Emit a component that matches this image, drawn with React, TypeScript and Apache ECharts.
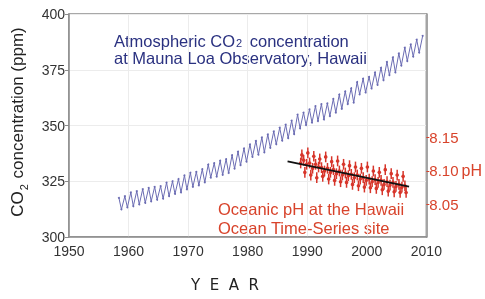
import React, { useEffect, useRef } from "react";
import * as echarts from "echarts";

// CO2 (ppm) at Mauna Loa: yearly seasonal peak (May) and trough (Oct)
const co2Years = [
  1958, 1959, 1960, 1961, 1962, 1963, 1964, 1965, 1966, 1967,
  1968, 1969, 1970, 1971, 1972, 1973, 1974, 1975, 1976, 1977,
  1978, 1979, 1980, 1981, 1982, 1983, 1984, 1985, 1986, 1987,
  1988, 1989, 1990, 1991, 1992, 1993, 1994, 1995, 1996, 1997,
  1998, 1999, 2000, 2001, 2002, 2003, 2004, 2005, 2006, 2007,
  2008, 2009,
];
const co2Peak = [
  317.5, 318.3, 320.0, 320.6, 321.5, 322.0, 322.5, 322.8, 324.4, 325.0,
  326.0, 327.6, 328.8, 329.2, 330.4, 332.5, 333.1, 334.2, 334.9, 336.7,
  338.3, 339.7, 341.5, 343.1, 344.7, 346.0, 347.4, 349.0, 350.4, 352.2,
  354.9, 355.8, 357.2, 358.7, 359.6, 359.9, 361.9, 363.9, 365.3, 366.7,
  369.5, 371.0, 371.8, 373.8, 375.9, 378.5, 380.6, 382.3, 384.9, 386.4,
  388.5, 390.2,
];
const co2Trough = [
  312.4, 313.3, 313.8, 314.6, 315.3, 316.0, 316.7, 317.2, 318.3, 319.3,
  320.0, 321.4, 322.5, 323.2, 324.5, 326.6, 327.1, 327.9, 328.7, 330.7,
  332.2, 333.8, 335.9, 336.9, 338.0, 340.0, 341.6, 343.2, 344.3, 346.1,
  348.7, 350.2, 351.3, 352.0, 352.7, 354.2, 355.8, 357.5, 359.6, 360.3,
  364.0, 364.8, 366.6, 368.2, 370.3, 372.6, 373.8, 376.9, 378.9, 380.9,
  382.7,
];

// Oceanic pH at HOT
const phYears = [
  1988.9, 1989.1, 1989.4, 1989.6, 1989.9, 1990.1, 1990.4, 1990.6, 1990.9,
  1991.1, 1991.4, 1991.6, 1991.9, 1992.1, 1992.4, 1992.6, 1992.9,
  1993.1, 1993.4, 1993.6, 1993.9, 1994.1, 1994.4, 1994.6, 1994.9,
  1995.1, 1995.4, 1995.6, 1995.9, 1996.1, 1996.4, 1996.6, 1996.9,
  1997.1, 1997.4, 1997.6, 1997.9, 1998.1, 1998.4, 1998.6, 1998.9,
  1999.1, 1999.4, 1999.6, 1999.9, 2000.1, 2000.4, 2000.6, 2000.9,
  2001.1, 2001.4, 2001.6, 2001.9, 2002.1, 2002.4, 2002.6, 2002.9,
  2003.1, 2003.4, 2003.6, 2003.9, 2004.1, 2004.4, 2004.6, 2004.9,
  2005.1, 2005.4, 2005.6, 2005.9, 2006.1, 2006.4, 2006.6,
];
const phValues = [
  8.112, 8.124, 8.116, 8.098, 8.110, 8.127, 8.112, 8.094, 8.104,
  8.122, 8.110, 8.090, 8.106, 8.118, 8.105, 8.092, 8.100,
  8.121, 8.104, 8.088, 8.098, 8.114, 8.102, 8.086, 8.096,
  8.115, 8.100, 8.084, 8.094, 8.110, 8.097, 8.083, 8.093,
  8.108, 8.095, 8.080, 8.090, 8.106, 8.094, 8.078, 8.088,
  8.104, 8.090, 8.076, 8.086, 8.106, 8.088, 8.075, 8.084,
  8.100, 8.087, 8.074, 8.083, 8.098, 8.086, 8.072, 8.080,
  8.102, 8.084, 8.070, 8.079, 8.096, 8.083, 8.069, 8.077,
  8.094, 8.080, 8.068, 8.076, 8.092, 8.078, 8.068,
];
const phErr = 0.008;
const phTrendYears = [1986.7, 2007.1];
const phTrendValues = [8.1145, 8.0768];

const yearTicks = [1950, 1960, 1970, 1980, 1990, 2000, 2010];
const co2Ticks = [300, 325, 350, 375, 400];
const phTicks = [8.05, 8.1, 8.15];

const NAVY = "#2a3180";
const RED = "#d8432b";
const FONT = "'Liberation Sans', Arial, Helvetica, sans-serif";

export default function App() {
  const ref = useRef<HTMLDivElement>(null);
  useEffect(() => {
    if (!ref.current) return;
    const chart = echarts.init(ref.current, undefined, { renderer: "svg" });

    const co2Data: number[][] = [];
    co2Years.forEach((y, i) => {
      co2Data.push([y + 0.38, co2Peak[i]]);
      if (i < co2Trough.length) co2Data.push([y + 0.8, co2Trough[i]]);
    });
    const phData = phYears.map((y, i) => [y, phValues[i], phErr]);
    const trendData = phTrendYears.map((y, i) => [y, phTrendValues[i]]);

    chart.setOption({
      animation: false,
      textStyle: { fontFamily: FONT },
      grid: {
        left: 69,
        top: 14,
        right: 58,
        bottom: 62,
        show: true,
        borderColor: "#8c8c8c",
        borderWidth: 1.5,
        backgroundColor: "transparent",
      },
      xAxis: {
        type: "value",
        min: yearTicks[0],
        max: yearTicks[yearTicks.length - 1],
        interval: 10,
        axisLine: { show: true, lineStyle: { color: "#8c8c8c", width: 1.5 } },
        axisTick: { show: false },
        splitLine: { show: true, lineStyle: { color: "#ececec", width: 1 } },
        axisLabel: {
          fontSize: 14,
          color: "#333",
          fontFamily: FONT,
          margin: 7,
          formatter: (v: number) => String(v),
        },
      },
      yAxis: [
        {
          type: "value",
          min: co2Ticks[0],
          max: co2Ticks[co2Ticks.length - 1],
          interval: 25,
          axisLine: { show: true, lineStyle: { color: "#8c8c8c", width: 1.5 } },
          axisTick: { show: true, length: 4, lineStyle: { color: "#8c8c8c" } },
          splitLine: { show: true, lineStyle: { color: "#ececec", width: 1 } },
          axisLabel: { fontSize: 14, color: "#333", fontFamily: FONT, margin: 4 },
        },
        {
          type: "value",
          position: "right",
          min: 8.0015,
          max: 8.3343,
          axisLine: { show: true, lineStyle: { color: "#8c8c8c", width: 1.5 } },
          axisTick: {
            show: true,
            length: 3,
            customValues: phTicks,
            lineStyle: { color: RED },
          },
          splitLine: { show: false },
          axisLabel: {
            customValues: phTicks,
            margin: 3,
            formatter: (v: number) =>
              Math.abs(v - 8.1) < 1e-6 ? "{v|8.10}{u|pH}" : "{v|" + v.toFixed(2) + "}",
            rich: {
              v: { fontSize: 15, color: RED, fontFamily: FONT },
              u: { fontSize: 16, color: RED, fontFamily: FONT, padding: [0, 0, 0, 3] },
            },
          },
        },
      ],
      graphic: [
        {
          type: "text",
          x: 19,
          y: 122,
          rotation: Math.PI / 2,
          style: {
            text: "{a|CO}{s|2}{a| concentration (ppm)}",
            align: "center",
            verticalAlign: "middle",
            rich: {
              a: { fontSize: 17, fill: "#222", fontFamily: FONT, lineHeight: 20, verticalAlign: "top" },
              s: { fontSize: 11, fill: "#222", fontFamily: FONT, lineHeight: 10, verticalAlign: "bottom", padding: [0, 1, 0, 1] },
            },
          },
        },
        {
          type: "text",
          x: 114,
          y: 40,
          style: {
            text: "{a|Atmospheric CO}{s|2}{a| concentration}",
            align: "left",
            verticalAlign: "middle",
            rich: {
              a: { fontSize: 16.5, fill: NAVY, fontFamily: FONT, lineHeight: 16, verticalAlign: "top" },
              s: { fontSize: 11, fill: NAVY, fontFamily: FONT, lineHeight: 6, verticalAlign: "bottom", padding: [0, 3, 0, 1] },
            },
          },
        },
        {
          type: "text",
          x: 114,
          y: 58,
          style: {
            text: "at Mauna Loa Observatory, Hawaii",
            fontSize: 16.5,
            lineHeight: 15,
            fill: NAVY,
            fontFamily: FONT,
            align: "left",
            verticalAlign: "middle",
          },
        },
        {
          type: "text",
          x: 218,
          y: 209,
          style: {
            text: "Oceanic pH at the Hawaii",
            fontSize: 16.5,
            lineHeight: 17,
            fill: RED,
            fontFamily: FONT,
            align: "left",
            verticalAlign: "middle",
          },
        },
        {
          type: "text",
          x: 218,
          y: 227.5,
          style: {
            text: "Ocean Time-Series site",
            fontSize: 16.5,
            lineHeight: 17,
            fill: RED,
            fontFamily: FONT,
            align: "left",
            verticalAlign: "middle",
          },
        },
        {
          type: "text",
          x: 225,
          y: 285,
          style: {
            text: "Y  E  A  R",
            fontSize: 15,
            fill: "#222",
            fontFamily: "'DejaVu Sans', sans-serif",
            align: "center",
            verticalAlign: "middle",
          },
        },
      ],
      series: [
        {
          type: "line",
          xAxisIndex: 0,
          yAxisIndex: 0,
          data: co2Data,
          showSymbol: true,
          symbol: "circle",
          symbolSize: 2,
          itemStyle: { color: "#6b6cb3" },
          lineStyle: { color: "#6b6cb3", width: 1 },
          z: 3,
        },
        {
          type: "custom",
          xAxisIndex: 0,
          yAxisIndex: 1,
          data: phData,
          z: 4,
          renderItem: (params: any, api: any) => {
            const x = api.value(0);
            const y = api.value(1);
            const e = api.value(2);
            const top = api.coord([x, y + e]);
            const bot = api.coord([x, y - e]);
            const c = api.coord([x, y]);
            return {
              type: "group",
              children: [
                {
                  type: "line",
                  shape: { x1: top[0], y1: top[1], x2: bot[0], y2: bot[1] },
                  style: { stroke: "#d7352a", lineWidth: 1.5 },
                },
                {
                  type: "circle",
                  shape: { cx: c[0], cy: c[1], r: 1.8 },
                  style: { fill: "#d7352a" },
                },
              ],
            };
          },
        },
        {
          type: "line",
          xAxisIndex: 0,
          yAxisIndex: 1,
          data: trendData,
          showSymbol: false,
          lineStyle: { color: "#111", width: 1.8 },
          z: 5,
        },
      ],
    });
    return () => chart.dispose();
  }, []);
  return (
    <div
      ref={ref}
      style={{ position: "fixed", left: 0, top: 0, width: 485, height: 299 }}
    />
  );
}
